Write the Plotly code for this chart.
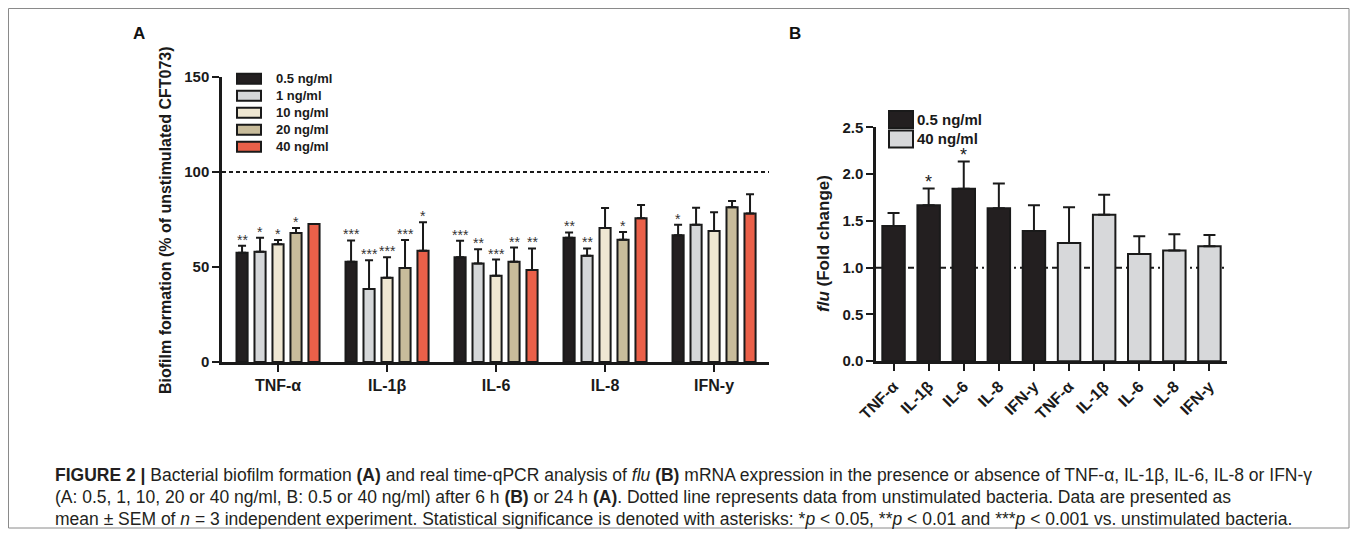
import plotly.graph_objects as go

OFF = 8  # page body margin in the browser
W, H = 1358 - OFF, 535 - OFF
FONT = "Liberation Sans"

# ---------------- Panel A data ----------------
cytokines_a = ["TNF-α", "IL-1β", "IL-6", "IL-8", "IFN-y"]
conc_labels_a = ["0.5 ng/ml", "1 ng/ml", "10 ng/ml", "20 ng/ml", "40 ng/ml"]
biofilm_05 = [57.5, 52.8, 55.1, 65.4, 66.7]
biofilm_1 = [58.0, 38.4, 51.9, 55.9, 72.3]
biofilm_10 = [62.0, 44.4, 45.4, 70.5, 68.9]
biofilm_20 = [67.9, 49.5, 52.8, 64.4, 81.4]
biofilm_40 = [72.6, 58.6, 48.4, 75.6, 78.1]
sem_05 = [3.7, 11.2, 8.7, 2.8, 5.6]
sem_1 = [7.4, 15.1, 7.4, 3.9, 8.9]
sem_10 = [2.2, 10.7, 8.5, 10.5, 9.9]
sem_20 = [2.6, 14.7, 7.4, 4.0, 3.3]
sem_40 = [0.0, 14.9, 11.4, 7.0, 10.2]
stars_05 = ["**", "***", "***", "**", "*"]
stars_1 = ["*", "***", "**", "**", ""]
stars_10 = ["*", "***", "***", "", ""]
stars_20 = ["*", "***", "**", "*", ""]
stars_40 = ["", "*", "**", "", ""]
colors_a = ["#231f20", "#d5d7d9", "#efe7d2", "#c8bc9b", "#ea6049"]
baseline_a = 100

# ---------------- Panel B data ----------------
cytokines_b = ["TNF-α", "IL-1β", "IL-6", "IL-8", "IFN-y"]
conc_labels_b = ["0.5 ng/ml", "40 ng/ml"]
flu_05 = [1.446, 1.667, 1.842, 1.635, 1.392]
flu_05_sem = [0.139, 0.178, 0.292, 0.264, 0.275]
flu_40 = [1.264, 1.564, 1.147, 1.182, 1.229]
flu_40_sem = [0.382, 0.214, 0.189, 0.175, 0.121]
flu_05_stars = ["", "*", "*", "", ""]
colors_b = ["#231f20", "#d7d8da"]
baseline_b = 1.0


def px_x(p):
    return (p - OFF) / W


def px_y(p):
    return 1 - (p - OFF) / H


fig = go.Figure()

# ---------------- Panel A bars ----------------
series_a = [biofilm_05, biofilm_1, biofilm_10, biofilm_20, biofilm_40]
sems_a = [sem_05, sem_1, sem_10, sem_20, sem_40]
stars_a = [stars_05, stars_1, stars_10, stars_20, stars_40]
pitch = 0.165
for j, (vals, errs, col) in enumerate(zip(series_a, sems_a, colors_a)):
    xs = [i + (j - 2) * pitch for i in range(len(cytokines_a))]
    fig.add_trace(go.Bar(
        x=xs, y=vals, width=0.102, marker=dict(color=col, line=dict(color="#1a1a1a", width=2)),
        error_y=dict(type="data", array=errs, arrayminus=[0] * len(errs), symmetric=False,
                     color="#1a1a1a", thickness=2, width=4),
        xaxis="x", yaxis="y", showlegend=False, name=conc_labels_a[j]))
    for i, s in enumerate(stars_a[j]):
        if s:
            fig.add_annotation(x=xs[i], y=vals[i] + errs[i], xref="x", yref="y", text=s,
                               showarrow=False, yanchor="bottom", yshift=-4,
                               font=dict(family=FONT, size=14, color="#333333"))

# ---------------- Panel B bars ----------------
n = len(cytokines_b)
xb05 = list(range(n))
xb40 = list(range(n, 2 * n))
fig.add_trace(go.Bar(
    x=xb05, y=flu_05, width=0.64, marker=dict(color=colors_b[0], line=dict(color="#1a1a1a", width=2)),
    error_y=dict(type="data", array=flu_05_sem, arrayminus=[0] * n, symmetric=False,
                 color="#1a1a1a", thickness=2, width=6),
    xaxis="x2", yaxis="y2", showlegend=False, name=conc_labels_b[0]))
fig.add_trace(go.Bar(
    x=xb40, y=flu_40, width=0.64, marker=dict(color=colors_b[1], line=dict(color="#1a1a1a", width=2)),
    error_y=dict(type="data", array=flu_40_sem, arrayminus=[0] * n, symmetric=False,
                 color="#1a1a1a", thickness=2, width=6),
    xaxis="x2", yaxis="y2", showlegend=False, name=conc_labels_b[1]))
for i, s in enumerate(flu_05_stars):
    if s:
        fig.add_annotation(x=xb05[i], y=flu_05[i] + flu_05_sem[i], xref="x2", yref="y2", text=s,
                           showarrow=False, yanchor="bottom", yshift=-5,
                           font=dict(family=FONT, size=18, color="#1a1a1a"))

# ---------------- baselines ----------------
fig.add_shape(type="line", xref="x domain", yref="y", x0=0, x1=1, y0=baseline_a, y1=baseline_a,
              line=dict(color="#1a1a1a", width=2, dash="4px,3px"), layer="below")
fig.add_shape(type="line", xref="x2 domain", yref="y2", x0=0, x1=1, y0=baseline_b, y1=baseline_b,
              line=dict(color="#1a1a1a", width=2, dash="6px,4px,2px,4px"), layer="below")

# ---------------- axes ----------------
axis_common = dict(showgrid=False, zeroline=False, showline=True, linecolor="#1a1a1a", linewidth=2.5,
                   ticks="outside", tickcolor="#1a1a1a", tickwidth=2, ticklen=7, automargin=False,
                   tickfont=dict(family=FONT, size=15, color="#1a1a1a", weight="bold"))
fig.update_layout(
    xaxis=dict(domain=[px_x(222), px_x(769)], range=[-0.514, 4.504], anchor="y",
               tickvals=list(range(len(cytokines_a))), ticktext=cytokines_a,
               **{**axis_common, "tickfont": dict(family=FONT, size=16, color="#1a1a1a", weight="bold")}),
    yaxis=dict(domain=[px_y(362), px_y(77)], range=[0, 150], anchor="x",
               tickvals=[0, 50, 100, 150], **axis_common),
    xaxis2=dict(domain=[px_x(876), px_x(1227)], range=[-0.5, 9.5], anchor="y2",
                tickvals=xb05 + xb40, ticktext=cytokines_b + cytokines_b, tickangle=-45,
                **{**axis_common, "tickfont": dict(family=FONT, size=16, color="#1a1a1a", weight="bold")}),
    yaxis2=dict(domain=[px_y(361.2), px_y(127.3)], range=[0, 2.5], anchor="x2",
                tickvals=[0, 0.5, 1.0, 1.5, 2.0, 2.5], tickformat=".1f", **axis_common),
)

# ---------------- legends (drawn) ----------------
leg_rows_a = [78.7, 95.7, 112.7, 129.7, 146.7]
for lab, col, yc in zip(conc_labels_a, colors_a, leg_rows_a):
    fig.add_shape(type="rect", xref="paper", yref="paper", x0=px_x(237), x1=px_x(261),
                  y0=px_y(yc + 5), y1=px_y(yc - 5), fillcolor=col, line=dict(color="#1a1a1a", width=2))
    fig.add_annotation(xref="paper", yref="paper", x=px_x(274), y=px_y(yc), text=lab, showarrow=False,
                       xanchor="left", yanchor="middle",
                       font=dict(family=FONT, size=13, color="#1a1a1a", weight="bold"))

leg_rows_b = [119.5, 139]
for lab, col, yc in zip(conc_labels_b, colors_b, leg_rows_b):
    fig.add_shape(type="rect", xref="paper", yref="paper", x0=px_x(889), x1=px_x(913),
                  y0=px_y(yc + 8.5), y1=px_y(yc - 8.5), fillcolor=col, line=dict(color="#1a1a1a", width=2))
    fig.add_annotation(xref="paper", yref="paper", x=px_x(915), y=px_y(yc), text=lab, showarrow=False,
                       xanchor="left", yanchor="middle",
                       font=dict(family=FONT, size=15, color="#1a1a1a", weight="bold"))

# ---------------- titles / labels ----------------
fig.add_annotation(xref="paper", yref="paper", x=px_x(165), y=px_y(220),
                   text="Biofilm formation (% of unstimulated CFT073)", textangle=-90, showarrow=False,
                   xanchor="center", yanchor="middle",
                   font=dict(family=FONT, size=16, color="#1a1a1a", weight="bold"))
fig.add_annotation(xref="paper", yref="paper", x=px_x(824), y=px_y(244),
                   text="<i>flu</i> (Fold change)", textangle=-90, showarrow=False,
                   xanchor="center", yanchor="middle",
                   font=dict(family=FONT, size=17, color="#1a1a1a", weight="bold"))
fig.add_annotation(xref="paper", yref="paper", x=px_x(139), y=px_y(33), text="A", showarrow=False,
                   xanchor="center", yanchor="middle",
                   font=dict(family=FONT, size=17, color="#111111", weight="bold"))
fig.add_annotation(xref="paper", yref="paper", x=px_x(795), y=px_y(33), text="B", showarrow=False,
                   xanchor="center", yanchor="middle",
                   font=dict(family=FONT, size=17, color="#111111", weight="bold"))

caption_lines = [
    "<b>FIGURE 2 |</b> Bacterial biofilm formation <b>(A)</b> and real time-qPCR analysis of <i>flu</i> <b>(B)</b> "
    "mRNA expression in the presence or absence of TNF-α, IL-1β, IL-6, IL-8 or IFN-γ",
    "(A: 0.5, 1, 10, 20 or 40 ng/ml, B: 0.5 or 40 ng/ml) after 6 h <b>(B)</b> or 24 h <b>(A)</b>. "
    "Dotted line represents data from unstimulated bacteria. Data are presented as",
    "mean ± SEM of <i>n</i> = 3 independent experiment. Statistical significance is denoted with asterisks: "
    "*<i>p</i> &lt; 0.05, **<i>p</i> &lt; 0.01 and ***<i>p</i> &lt; 0.001 vs. unstimulated bacteria.",
]
for line, yc in zip(caption_lines, [475, 497, 519]):
    fig.add_annotation(xref="paper", yref="paper", x=px_x(53), y=px_y(yc), text=line, showarrow=False,
                       xanchor="left", yanchor="middle",
                       font=dict(family=FONT, size=17.5, color="#231f20"))

# frame
fig.add_shape(type="rect", xref="paper", yref="paper", x0=px_x(8.5), x1=px_x(1349), y0=px_y(528),
              y1=px_y(8.5), line=dict(color="#8a8a8a", width=1), fillcolor="rgba(0,0,0,0)")

fig.update_layout(width=W, height=H, margin=dict(l=0, r=0, t=0, b=0, autoexpand=False),
                  paper_bgcolor="white", plot_bgcolor="rgba(0,0,0,0)", barmode="overlay",
                  font=dict(family=FONT, color="#1a1a1a"))

fig.write_html("out.html")
